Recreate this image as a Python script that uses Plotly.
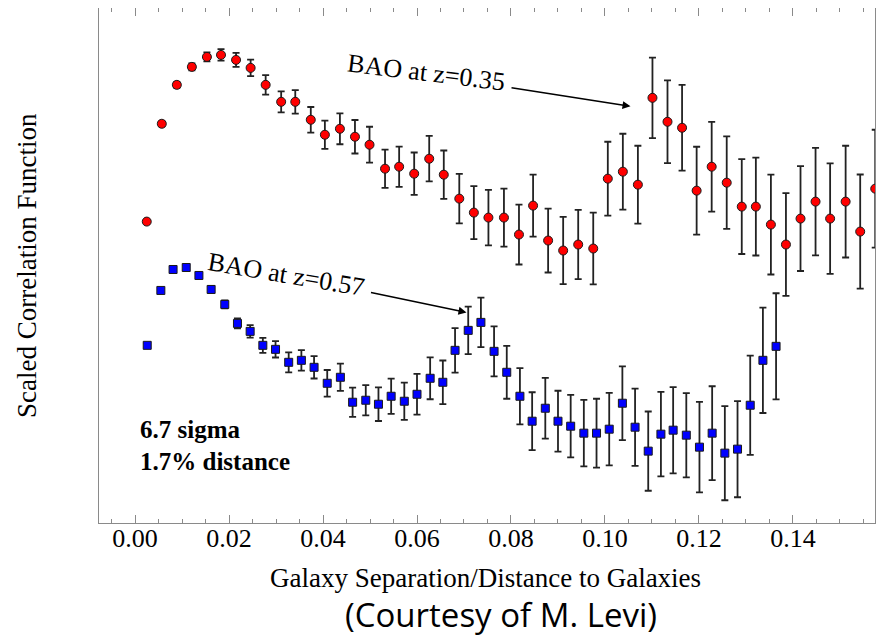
import plotly.graph_objects as go

# ---------------- data ----------------
red_x = [0.0025, 0.0057, 0.0089, 0.0121, 0.0153, 0.0183, 0.0215, 0.0246, 0.0278, 0.0311,
         0.0341, 0.0374, 0.0404, 0.0436, 0.0468, 0.0499, 0.0532, 0.0562, 0.0594, 0.0626,
         0.0657, 0.0690, 0.0721, 0.0752, 0.0785, 0.0817, 0.0847, 0.0879, 0.0911, 0.0943,
         0.0975, 0.1006, 0.1038, 0.1070, 0.1101, 0.1133, 0.1164, 0.1195, 0.1227, 0.1259,
         0.1291, 0.1321, 0.1353, 0.1385, 0.1416, 0.1448, 0.1479, 0.1512, 0.1543, 0.1575]
red_y = [3.02, 4.00, 4.39, 4.57, 4.67, 4.69, 4.64, 4.56, 4.39, 4.22,
         4.22, 4.04, 3.89, 3.95, 3.87, 3.79, 3.55, 3.57, 3.50, 3.65,
         3.49, 3.25, 3.11, 3.06, 3.06, 2.89, 3.18, 2.83, 2.73, 2.79,
         2.75, 3.45, 3.52, 3.39, 4.26, 4.02, 3.96, 3.33, 3.57, 3.41,
         3.17, 3.17, 2.99, 2.79, 3.05, 3.22, 3.05, 3.22, 2.92, 3.35]
red_err = [0.02, 0.025, 0.03, 0.035, 0.045, 0.058, 0.07, 0.083, 0.097, 0.105,
           0.118, 0.128, 0.142, 0.155, 0.168, 0.18, 0.192, 0.202, 0.212, 0.228,
           0.242, 0.248, 0.265, 0.278, 0.29, 0.30, 0.31, 0.32, 0.337, 0.347,
           0.36, 0.37, 0.38, 0.39, 0.403, 0.415, 0.43, 0.44, 0.45, 0.463,
           0.475, 0.49, 0.50, 0.515, 0.525, 0.538, 0.553, 0.56, 0.572, 0.59]

blue_x = [0.0026, 0.0055, 0.0081, 0.0109, 0.0136, 0.0162, 0.0191, 0.0218, 0.0245, 0.0272,
          0.0299, 0.0327, 0.0354, 0.0381, 0.0409, 0.0437, 0.0463, 0.0491, 0.0518, 0.0545,
          0.0573, 0.0600, 0.0628, 0.0655, 0.0681, 0.0709, 0.0736, 0.0764, 0.0791, 0.0819,
          0.0845, 0.0873, 0.0900, 0.0927, 0.0955, 0.0982, 0.1009, 0.1037, 0.1064, 0.1092,
          0.1119, 0.1145, 0.1173, 0.1201, 0.1228, 0.1255, 0.1282, 0.1309, 0.1336, 0.1364]
blue_y = [1.78, 2.33, 2.54, 2.56, 2.48, 2.34, 2.19, 2.00, 1.92, 1.78,
          1.74, 1.61, 1.63, 1.56, 1.40, 1.46, 1.21, 1.23, 1.19, 1.27,
          1.22, 1.29, 1.45, 1.41, 1.73, 1.93, 2.01, 1.72, 1.51, 1.27,
          1.02, 1.15, 1.02, 0.97, 0.90, 0.90, 0.94, 1.20, 0.96, 0.72,
          0.89, 0.93, 0.88, 0.76, 0.90, 0.70, 0.74, 1.18, 1.63, 1.77]
blue_err = [0.02, 0.02, 0.025, 0.025, 0.03, 0.035, 0.04, 0.05, 0.063, 0.075,
            0.082, 0.10, 0.103, 0.112, 0.133, 0.137, 0.147, 0.152, 0.168, 0.177,
            0.187, 0.205, 0.21, 0.218, 0.223, 0.238, 0.248, 0.25, 0.265, 0.282,
            0.29, 0.305, 0.305, 0.313, 0.333, 0.345, 0.363, 0.37, 0.387, 0.397,
            0.423, 0.432, 0.422, 0.453, 0.47, 0.472, 0.482, 0.498, 0.528, 0.532]

x_tick_vals = [0.00, 0.02, 0.04, 0.06, 0.08, 0.10, 0.12, 0.14]
x_tick_text = ["0.00", "0.02", "0.04", "0.06", "0.08", "0.10", "0.12", "0.14"]

SERIF = "Liberation Serif, Times New Roman, DejaVu Serif, serif"

fig = go.Figure()
fig.add_trace(go.Scatter(
    x=red_x, y=red_y, mode="markers",
    marker=dict(symbol="circle", size=9, color="#ff0000", line=dict(color="#1a1a1a", width=1)),
    error_y=dict(type="data", array=red_err, visible=True, color="#222222", thickness=1.8, width=3.5),
    cliponaxis=True, showlegend=False,
))
fig.add_trace(go.Scatter(
    x=blue_x, y=blue_y, mode="markers",
    marker=dict(symbol="square", size=8, color="#0000ff", line=dict(color="#1a1a1a", width=1)),
    error_y=dict(type="data", array=blue_err, visible=True, color="#222222", thickness=1.8, width=3.5),
    cliponaxis=True, showlegend=False,
))

axis_col = "#8a8a8a"
fig.update_xaxes(
    range=[-0.00766, 0.15745], showgrid=False, zeroline=False,
    showline=True, linecolor=axis_col, linewidth=1.2, mirror="ticks",
    ticks="inside", ticklen=8, tickwidth=1.2, tickcolor=axis_col,
    tickvals=x_tick_vals, ticktext=x_tick_text, ticklabelstandoff=-8,
    tickfont=dict(family=SERIF, size=26, color="black"),
    minor=dict(dtick=0.005, tick0=0, ticks="inside", ticklen=4, tickwidth=1.2, tickcolor=axis_col, showgrid=False),
)
fig.update_yaxes(
    range=[0, 5.16], showgrid=False, zeroline=False,
    showline=True, linecolor=axis_col, linewidth=1.2, mirror=True,
    ticks="", showticklabels=False,
)

annotations = [
    dict(xref="paper", yref="paper", x=0.4987, y=-0.1068, text="Galaxy Separation/Distance to Galaxies",
         showarrow=False, font=dict(family=SERIF, size=27, color="black"), xanchor="center", yanchor="middle"),
    dict(xref="paper", yref="paper", x=-0.0928, y=0.501, text="Scaled Correlation Function",
         showarrow=False, textangle=-90, font=dict(family=SERIF, size=27, color="black"),
         xanchor="center", yanchor="middle"),
    dict(xref="paper", yref="paper", x=0.5178, y=-0.1786, text="(Courtesy of M. Levi)", showarrow=False,
         font=dict(family="Open Sans, Noto Sans, sans-serif", size=33, color="black"),
         xanchor="center", yanchor="middle", borderpad=0),
    dict(x=0.0006, y=0.94, text="<b>6.7 sigma</b>", showarrow=False,
         font=dict(family=SERIF, size=25, color="black"), xanchor="left", yanchor="middle"),
    dict(x=0.0006, y=0.62, text="<b>1.7% distance</b>", showarrow=False,
         font=dict(family=SERIF, size=25, color="black"), xanchor="left", yanchor="middle"),
    dict(x=0.0620, y=4.51, text="BAO at z=0.35", showarrow=False, textangle=7,
         font=dict(family=SERIF, size=26, color="black"), xanchor="center", yanchor="middle"),
    dict(x=0.0321, y=2.49, text="BAO at z=0.57", showarrow=False, textangle=9.5,
         font=dict(family=SERIF, size=26, color="black"), xanchor="center", yanchor="middle"),
    dict(x=0.10543, y=4.175, ax=0.07979, ay=4.363, axref="x", ayref="y", text="",
         showarrow=True, arrowhead=2, arrowsize=1, arrowwidth=1.6, arrowcolor="black", standoff=0),
    dict(x=0.07053, y=2.11, ax=0.04989, ay=2.313, axref="x", ayref="y", text="",
         showarrow=True, arrowhead=2, arrowsize=1, arrowwidth=1.6, arrowcolor="black", standoff=0),
]

# page body has an 8px margin; size/margins compensate so the plot box lands where the reference has it
fig.update_layout(
    width=877, height=639,
    margin=dict(l=91, r=10, t=0, b=124),
    paper_bgcolor="white", plot_bgcolor="white",
    annotations=annotations,
    showlegend=False,
)

fig.write_html("out.html")
